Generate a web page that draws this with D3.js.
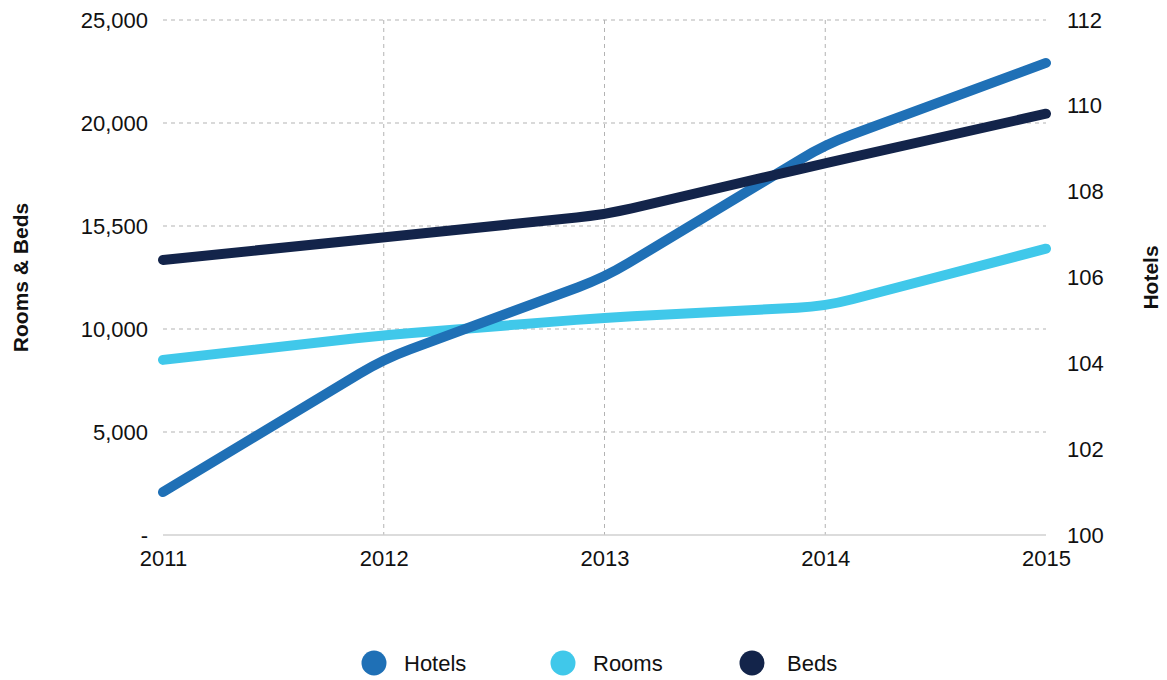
<!DOCTYPE html>
<html>
<head>
<meta charset="utf-8">
<script src="https://cdn.jsdelivr.net/npm/d3@7"></script>
<style>
  body { margin: 0; background: #fff; }
  text { font-family: "Liberation Sans", Arial, sans-serif; fill: #111; }
</style>
</head>
<body>
<div id="chart"></div>
<script>
// data
var years = ["2011", "2012", "2013", "2014", "2015"]
var hotels = [101, 104.1, 106, 109.1, 111]
var rooms = [8500, 9700, 10550, 11100, 13900]
var beds = [13350, 14450, 15550, 18050, 20450]

var leftTicks = [0, 5000, 10000, 15000, 20000, 25000]
var leftTickLabels = ["-", "5,000", "10,000", "15,500", "20,000", "25,000"]
var rightTicks = [100, 102, 104, 106, 108, 110, 112]

var seriesNames = ["Hotels", "Rooms", "Beds"]
var colors = ["#1f70b6", "#40c8ea", "#13244a"]

var W = 1167, H = 680
var margin = {top: 20, right: 121, bottom: 145, left: 163}
var width = W - margin.left - margin.right,
    height = H - margin.top - margin.bottom

var svg = d3.select("#chart").append("svg")
    .attr("width", W)
    .attr("height", H)

var g = svg.append("g")
    .attr("transform", "translate(" + margin.left + "," + margin.top + ")")

var x = d3.scalePoint()
    .domain(years)
    .range([0, width])

var yL = d3.scaleLinear().domain([0, 25000]).range([height, 0])
var yR = d3.scaleLinear().domain([100, 112]).range([height, 0])

// straight segments, corners rounded a little
function roundedCorners(context) {
    var pts = []
    return {
        areaStart: function() {},
        areaEnd: function() {},
        lineStart: function() { pts = [] },
        point: function(px, py) { pts.push([px, py]) },
        lineEnd: function() {
            var r = 28
            context.moveTo(pts[0][0], pts[0][1])
            for (var i = 1; i < pts.length - 1; i++) {
                var a = pts[i - 1], b = pts[i], c = pts[i + 1]
                var d1 = Math.hypot(b[0] - a[0], b[1] - a[1]),
                    d2 = Math.hypot(c[0] - b[0], c[1] - b[1])
                var r1 = Math.min(r, d1 / 2), r2 = Math.min(r, d2 / 2)
                context.lineTo(b[0] - (b[0] - a[0]) * r1 / d1, b[1] - (b[1] - a[1]) * r1 / d1)
                context.quadraticCurveTo(b[0], b[1],
                    b[0] + (c[0] - b[0]) * r2 / d2, b[1] + (c[1] - b[1]) * r2 / d2)
            }
            var last = pts[pts.length - 1]
            context.lineTo(last[0], last[1])
        }
    }
}

// horizontal grid
g.append("g")
    .selectAll("line")
    .data(leftTicks.slice(1))
    .enter().append("line")
    .attr("x1", 0).attr("x2", width)
    .attr("y1", function(d) { return yL(d) }).attr("y2", function(d) { return yL(d) })
    .attr("stroke", "#b3b3b3")
    .attr("stroke-width", 1)
    .attr("stroke-dasharray", "4,4")

// vertical grid
g.append("g")
    .selectAll("line")
    .data(years.slice(1, -1))
    .enter().append("line")
    .attr("x1", function(d) { return x(d) }).attr("x2", function(d) { return x(d) })
    .attr("y1", 0).attr("y2", height)
    .attr("stroke", "#b3b3b3")
    .attr("stroke-width", 1)
    .attr("stroke-dasharray", "4,4")

// baseline
g.append("line")
    .attr("x1", 0).attr("x2", width)
    .attr("y1", height).attr("y2", height)
    .attr("stroke", "#d0d0d0")
    .attr("stroke-width", 1.5)

// left axis
var leftAxis = g.append("g")
    .call(d3.axisLeft(yL).tickValues(leftTicks).tickSize(0).tickPadding(15)
        .tickFormat(function(d, i) { return leftTickLabels[i] }))
leftAxis.select(".domain").remove()
leftAxis.selectAll("text").style("font-size", "22px").attr("fill", "#111")

// right axis
var rightAxis = g.append("g")
    .attr("transform", "translate(" + width + ",0)")
    .call(d3.axisRight(yR).tickValues(rightTicks).tickSize(0).tickPadding(21))
rightAxis.select(".domain").remove()
rightAxis.selectAll("text").style("font-size", "22px").attr("fill", "#111")

// x axis
var xAxis = g.append("g")
    .attr("transform", "translate(0," + height + ")")
    .call(d3.axisBottom(x).tickSize(0).tickPadding(15))
xAxis.select(".domain").remove()
xAxis.selectAll("text").style("font-size", "22px").attr("fill", "#111")

// axis titles
svg.append("text")
    .attr("transform", "translate(28," + (margin.top + height / 2) + ") rotate(-90)")
    .attr("text-anchor", "middle")
    .style("font-size", "21px")
    .style("font-weight", "bold")
    .text("Rooms & Beds")

svg.append("text")
    .attr("transform", "translate(1158," + (margin.top + height / 2) + ") rotate(-90)")
    .attr("text-anchor", "middle")
    .style("font-size", "21px")
    .style("font-weight", "bold")
    .text("Hotels")

// lines
var lineL = d3.line()
    .x(function(d, i) { return x(years[i]) })
    .y(function(d) { return yL(d) })
    .curve(roundedCorners)
var lineR = d3.line()
    .x(function(d, i) { return x(years[i]) })
    .y(function(d) { return yR(d) })
    .curve(roundedCorners)

g.append("path").datum(rooms)
    .attr("d", lineL).attr("fill", "none")
    .attr("stroke", colors[1]).attr("stroke-width", 10).attr("stroke-linecap", "round")

g.append("path").datum(hotels)
    .attr("d", lineR).attr("fill", "none")
    .attr("stroke", colors[0]).attr("stroke-width", 10).attr("stroke-linecap", "round")

g.append("path").datum(beds)
    .attr("d", lineL).attr("fill", "none")
    .attr("stroke", colors[2]).attr("stroke-width", 10).attr("stroke-linecap", "round")

// legend
var legendX = [374, 563, 752]
var legend = svg.append("g").attr("transform", "translate(0,663)")
var items = legend.selectAll("g")
    .data(seriesNames)
    .enter().append("g")
    .attr("transform", function(d, i) { return "translate(" + legendX[i] + ",0)" })
items.append("circle")
    .attr("r", 12.5)
    .attr("fill", function(d, i) { return colors[i] })
items.append("text")
    .attr("x", function(d, i) { return i == 2 ? 35 : 30 })
    .attr("dy", "0.35em")
    .style("font-size", "22px")
    .text(function(d) { return d })
</script>
</body>
</html>
